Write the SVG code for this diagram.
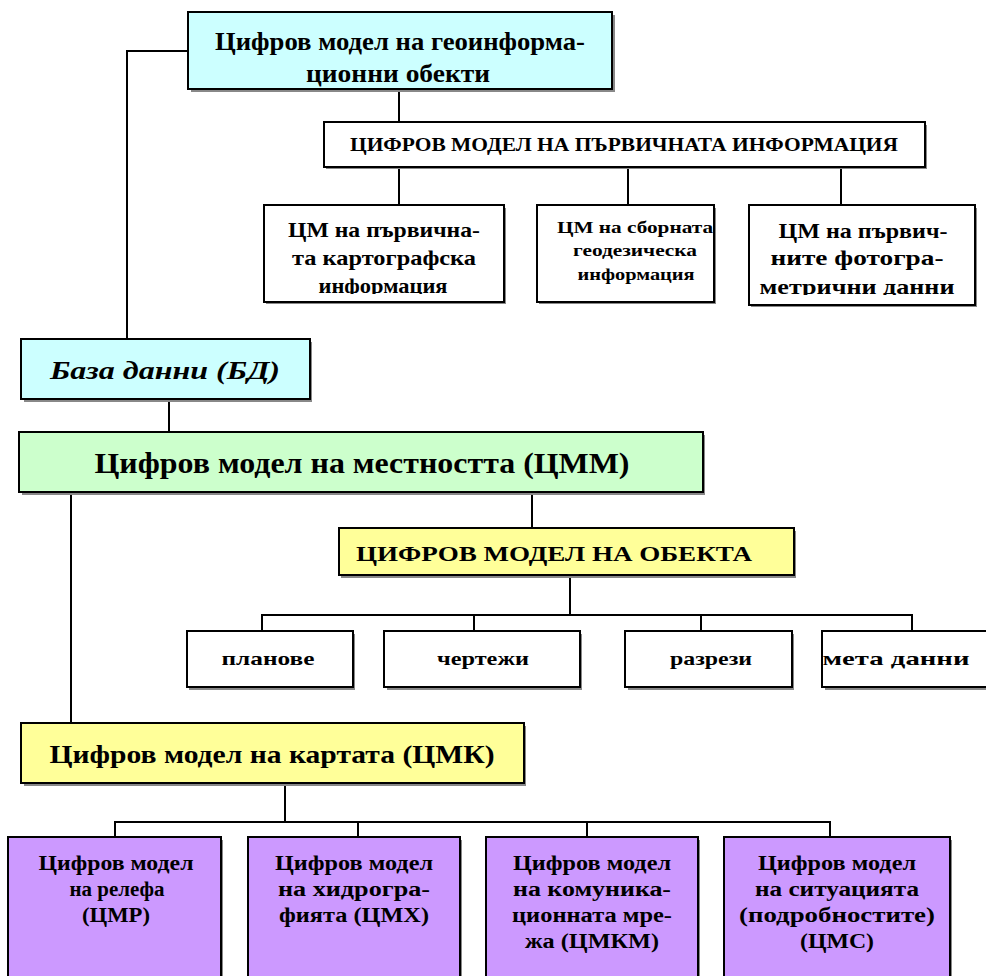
<svg xmlns="http://www.w3.org/2000/svg" width="986" height="976" viewBox="0 0 986 976">
<defs>
<style>
.box{stroke:#000;stroke-width:2}
.sh{fill:#888}
.t{font-family:"Liberation Serif","Times New Roman",serif;font-weight:bold;fill:#000;text-anchor:middle}
.ln{stroke:#000;stroke-width:2;fill:none}
</style>
<clipPath id="c1"><rect x="264" y="206" width="240" height="88"/></clipPath>
<clipPath id="c3"><rect x="749" y="206" width="226" height="89"/></clipPath>
</defs>
<rect width="986" height="976" fill="#fff"/>
<g id="connectors">
<path class="ln" d="M188,51 H127 V339"/>
<path class="ln" d="M399,89 V122"/>
<path class="ln" d="M399,167 V205 M628,167 V205 M841,167 V205"/>
<path class="ln" d="M169,399 V432"/>
<path class="ln" d="M71,492 V723"/>
<path class="ln" d="M532,492 V528"/>
<path class="ln" d="M570,575 V615 M262,615 H912 M262,614 V631 M474,614 V631 M701,614 V631 M912,614 V631"/>
<path class="ln" d="M285,783 V822 M115,822 H830 M115,821 V837 M358,821 V837 M587,821 V837 M830,821 V837"/>
</g>
<g id="n-geo">
<rect class="sh" x="191" y="15" width="424" height="77"/>
<rect class="box" x="188" y="12" width="424" height="77" fill="#CCFFFF"/>
<text class="t" font-size="25" x="400" y="50" textLength="370" lengthAdjust="spacingAndGlyphs">Цифров модел на геоинформа-</text>
<text class="t" font-size="25" x="398" y="82" textLength="184" lengthAdjust="spacingAndGlyphs">ционни обекти</text>
</g>
<g id="n-primary">
<rect class="sh" x="326" y="125" width="601" height="44"/>
<rect class="box" x="324" y="122" width="601" height="45" fill="#fff"/>
<text class="t" font-size="18" x="624" y="151" textLength="548" lengthAdjust="spacingAndGlyphs">ЦИФРОВ МОДЕЛ НА ПЪРВИЧНАТА ИНФОРМАЦИЯ</text>
</g>
<g id="n-carto">
<rect class="sh" x="266" y="208" width="240" height="96"/>
<rect class="box" x="264" y="205" width="240" height="97" fill="#fff"/>
<g clip-path="url(#c1)">
<text class="t" font-size="21" x="384" y="237" textLength="192" lengthAdjust="spacingAndGlyphs">ЦМ на първична-</text>
<text class="t" font-size="21" x="384" y="265" textLength="184" lengthAdjust="spacingAndGlyphs">та картографска</text>
<text class="t" font-size="21" x="383" y="293" textLength="129" lengthAdjust="spacingAndGlyphs">информация</text>
</g>
</g>
<g id="n-geod">
<rect class="sh" x="539" y="208" width="177" height="96"/>
<rect class="box" x="537" y="205" width="177" height="97" fill="#fff"/>
<text class="t" font-size="16" x="635" y="233" textLength="156" lengthAdjust="spacingAndGlyphs">ЦМ на сборната</text>
<text class="t" font-size="16" x="635" y="256" textLength="124" lengthAdjust="spacingAndGlyphs">геодезическа</text>
<text class="t" font-size="16" x="636" y="280" textLength="117" lengthAdjust="spacingAndGlyphs">информация</text>
</g>
<g id="n-photo">
<rect class="sh" x="751" y="208" width="226" height="99"/>
<rect class="box" x="749" y="205" width="226" height="100" fill="#fff"/>
<g clip-path="url(#c3)">
<text class="t" font-size="21" x="863" y="238" textLength="169" lengthAdjust="spacingAndGlyphs">ЦМ на първич-</text>
<text class="t" font-size="21" x="857" y="265" textLength="173" lengthAdjust="spacingAndGlyphs">ните фотогра-</text>
<text class="t" font-size="21" x="857" y="294" textLength="195" lengthAdjust="spacingAndGlyphs">метрични данни</text>
</g>
</g>
<g id="n-db">
<rect class="sh" x="24" y="342" width="288" height="60"/>
<rect class="box" x="21" y="339" width="289" height="60" fill="#CCFFFF"/>
<text class="t" font-size="26" font-style="italic" x="165" y="379" textLength="230" lengthAdjust="spacingAndGlyphs">База данни (БД)</text>
</g>
<g id="n-cmm">
<rect class="sh" x="22" y="435" width="683" height="60"/>
<rect class="box" x="19" y="432" width="684" height="60" fill="#CCFFCC"/>
<text class="t" font-size="29" x="362" y="473" textLength="535" lengthAdjust="spacingAndGlyphs">Цифров модел на местността (ЦММ)</text>
</g>
<g id="n-obj">
<rect class="sh" x="341" y="531" width="455" height="47"/>
<rect class="box" x="339" y="528" width="455" height="47" fill="#FFFF99"/>
<text class="t" font-size="22" x="554" y="561" textLength="396" lengthAdjust="spacingAndGlyphs">ЦИФРОВ МОДЕЛ НА ОБЕКТА</text>
</g>
<g id="n-plans">
<rect class="sh" x="189" y="634" width="166" height="56"/>
<rect class="box" x="187" y="631" width="166" height="56" fill="#fff"/>
<text class="t" font-size="19" x="268" y="665" textLength="93" lengthAdjust="spacingAndGlyphs">планове</text>
</g>
<g id="n-draw">
<rect class="sh" x="387" y="634" width="195" height="56"/>
<rect class="box" x="384" y="631" width="196" height="56" fill="#fff"/>
<text class="t" font-size="19" x="483" y="665" textLength="92" lengthAdjust="spacingAndGlyphs">чертежи</text>
</g>
<g id="n-sect">
<rect class="sh" x="628" y="634" width="166" height="56"/>
<rect class="box" x="625" y="631" width="167" height="56" fill="#fff"/>
<text class="t" font-size="19" x="711" y="665" textLength="82" lengthAdjust="spacingAndGlyphs">разрези</text>
</g>
<g id="n-meta">
<rect class="sh" x="825" y="634" width="170" height="56"/>
<rect class="box" x="822" y="631" width="170" height="56" fill="#fff"/>
<text class="t" font-size="19" x="896" y="665" textLength="147" lengthAdjust="spacingAndGlyphs">мета данни</text>
</g>
<g id="n-cmk">
<rect class="sh" x="24" y="726" width="502" height="60"/>
<rect class="box" x="21" y="723" width="503" height="60" fill="#FFFF99"/>
<text class="t" font-size="26" x="272" y="763" textLength="445" lengthAdjust="spacingAndGlyphs">Цифров модел на картата (ЦМК)</text>
</g>
<g id="n-relief">
<rect class="sh" x="10" y="840" width="213" height="140"/>
<rect class="box" x="8" y="837" width="213" height="145" fill="#CC99FF"/>
<text class="t" font-size="20" x="116" y="870" textLength="155" lengthAdjust="spacingAndGlyphs">Цифров модел</text>
<text class="t" font-size="20" x="117" y="896" textLength="95" lengthAdjust="spacingAndGlyphs">на релефа</text>
<text class="t" font-size="20" x="116" y="922" textLength="68" lengthAdjust="spacingAndGlyphs">(ЦМР)</text>
</g>
<g id="n-hydro">
<rect class="sh" x="250" y="840" width="212" height="140"/>
<rect class="box" x="248" y="837" width="212" height="145" fill="#CC99FF"/>
<text class="t" font-size="20" x="354" y="870" textLength="158" lengthAdjust="spacingAndGlyphs">Цифров модел</text>
<text class="t" font-size="20" x="354" y="896" textLength="152" lengthAdjust="spacingAndGlyphs">на хидрогра-</text>
<text class="t" font-size="20" x="354" y="922" textLength="150" lengthAdjust="spacingAndGlyphs">фията (ЦМХ)</text>
</g>
<g id="n-comm">
<rect class="sh" x="488" y="840" width="212" height="140"/>
<rect class="box" x="486" y="837" width="212" height="145" fill="#CC99FF"/>
<text class="t" font-size="20" x="592" y="870" textLength="158" lengthAdjust="spacingAndGlyphs">Цифров модел</text>
<text class="t" font-size="20" x="592" y="896" textLength="158" lengthAdjust="spacingAndGlyphs">на комуника-</text>
<text class="t" font-size="20" x="592" y="922" textLength="160" lengthAdjust="spacingAndGlyphs">ционната мре-</text>
<text class="t" font-size="20" x="592" y="948" textLength="134" lengthAdjust="spacingAndGlyphs">жа (ЦМКМ)</text>
</g>
<g id="n-situ">
<rect class="sh" x="726" y="840" width="226" height="140"/>
<rect class="box" x="724" y="837" width="226" height="145" fill="#CC99FF"/>
<text class="t" font-size="20" x="837" y="870" textLength="158" lengthAdjust="spacingAndGlyphs">Цифров модел</text>
<text class="t" font-size="20" x="837" y="896" textLength="164" lengthAdjust="spacingAndGlyphs">на ситуацията</text>
<text class="t" font-size="20" x="837" y="922" textLength="196" lengthAdjust="spacingAndGlyphs">(подробностите)</text>
<text class="t" font-size="20" x="837" y="948" textLength="74" lengthAdjust="spacingAndGlyphs">(ЦМС)</text>
</g>
</svg>
